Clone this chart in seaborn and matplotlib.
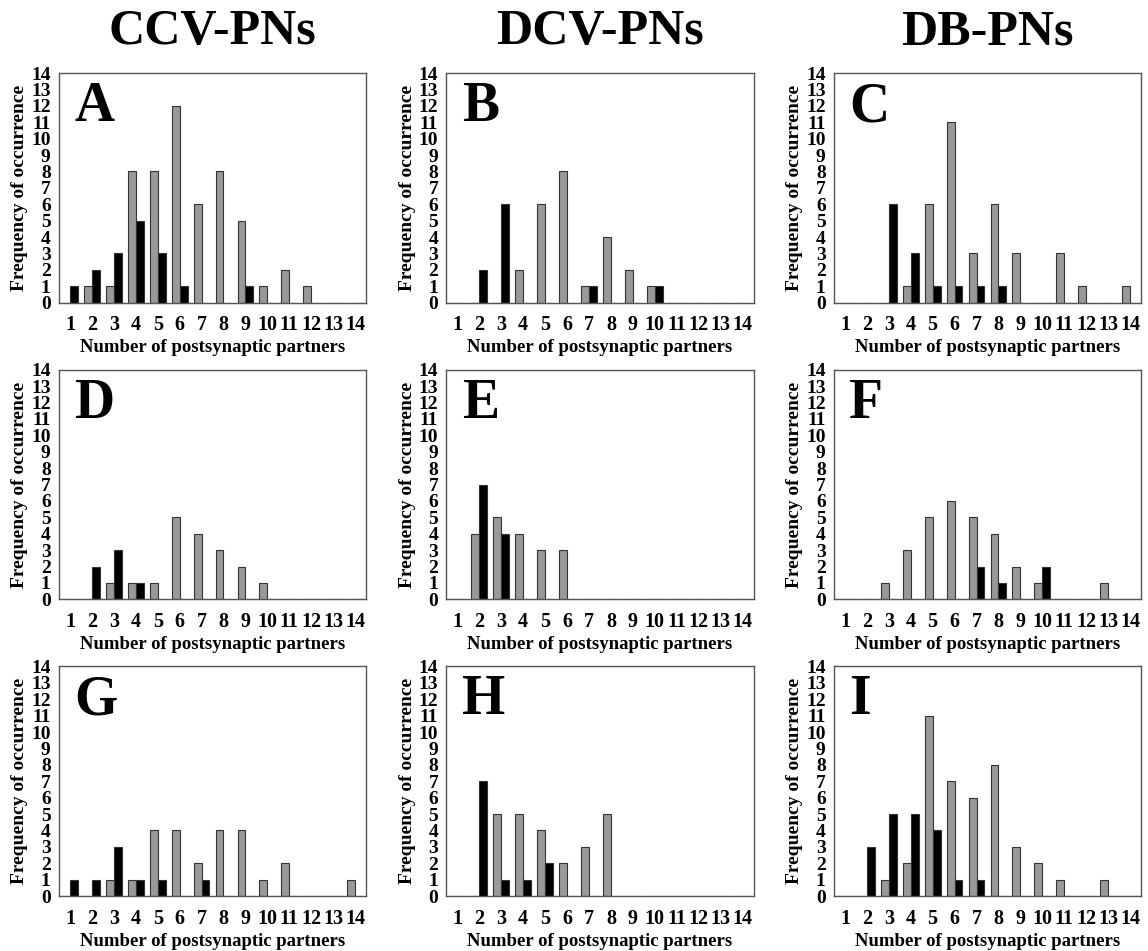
"""Histograms of postsynaptic partner counts for CCV-, DCV- and DB-PNs."""

import matplotlib.pyplot as plt
import pandas as pd
import seaborn as sns

PARTNERS = list(range(1, 15))
COLUMN_TITLES = ["CCV-PNs", "DCV-PNs", "DB-PNs"]
PANEL_LETTERS = ["A", "B", "C", "D", "E", "F", "G", "H", "I"]

# gray bars, partner counts 1..14
GRAY_A = [0, 1, 1, 8, 8, 12, 6, 8, 5, 1, 2, 1, 0, 0]
GRAY_B = [0, 0, 0, 2, 6, 8, 1, 4, 2, 1, 0, 0, 0, 0]
GRAY_C = [0, 0, 0, 1, 6, 11, 3, 6, 3, 0, 3, 1, 0, 1]
GRAY_D = [0, 0, 1, 1, 1, 5, 4, 3, 2, 1, 0, 0, 0, 0]
GRAY_E = [0, 4, 5, 4, 3, 3, 0, 0, 0, 0, 0, 0, 0, 0]
GRAY_F = [0, 0, 1, 3, 5, 6, 5, 4, 2, 1, 0, 0, 1, 0]
GRAY_G = [0, 0, 1, 1, 4, 4, 2, 4, 4, 1, 2, 0, 0, 1]
GRAY_H = [0, 0, 5, 5, 4, 2, 3, 5, 0, 0, 0, 0, 0, 0]
GRAY_I = [0, 0, 1, 2, 11, 7, 6, 8, 3, 2, 1, 0, 1, 0]

# black bars, partner counts 1..14
BLACK_A = [1, 2, 3, 5, 3, 1, 0, 0, 1, 0, 0, 0, 0, 0]
BLACK_B = [0, 2, 6, 0, 0, 0, 1, 0, 0, 1, 0, 0, 0, 0]
BLACK_C = [0, 0, 6, 3, 1, 1, 1, 1, 0, 0, 0, 0, 0, 0]
BLACK_D = [0, 2, 3, 1, 0, 0, 0, 0, 0, 0, 0, 0, 0, 0]
BLACK_E = [0, 7, 4, 0, 0, 0, 0, 0, 0, 0, 0, 0, 0, 0]
BLACK_F = [0, 0, 0, 0, 0, 0, 2, 1, 0, 2, 0, 0, 0, 0]
BLACK_G = [1, 1, 3, 1, 1, 0, 1, 0, 0, 0, 0, 0, 0, 0]
BLACK_H = [0, 7, 1, 1, 2, 0, 0, 0, 0, 0, 0, 0, 0, 0]
BLACK_I = [0, 3, 5, 5, 4, 1, 1, 0, 0, 0, 0, 0, 0, 0]

GRAY = [GRAY_A, GRAY_B, GRAY_C, GRAY_D, GRAY_E, GRAY_F, GRAY_G, GRAY_H, GRAY_I]
BLACK = [BLACK_A, BLACK_B, BLACK_C, BLACK_D, BLACK_E, BLACK_F, BLACK_G, BLACK_H, BLACK_I]

sns.set_style("white")
plt.rcParams["font.family"] = ["Liberation Serif", "DejaVu Serif"]
plt.rcParams["font.weight"] = "bold"
plt.rcParams.update({"text.color": "black", "axes.labelcolor": "black",
                     "xtick.color": "black", "ytick.color": "black"})

fig, axes = plt.subplots(3, 3, figsize=(11.48, 9.51), dpi=100)
fig.subplots_adjust(left=0.0514, right=0.9939, top=0.9232, bottom=0.0578,
                    wspace=0.262, hspace=0.292)

for i, ax in enumerate(axes.flat):
    df = pd.DataFrame({
        "partners": PARTNERS * 2,
        "count": GRAY[i] + BLACK[i],
        "group": ["gray"] * 14 + ["black"] * 14,
    })
    sns.barplot(data=df, x="partners", y="count", hue="group",
                hue_order=["gray", "black"], order=PARTNERS,
                palette={"gray": "#999999", "black": "#000000"},
                width=0.72, edgecolor="#333333", linewidth=0.8,
                legend=False, ax=ax)
    ax.set_ylim(0, 14)
    ax.set_xlim(-0.5, 13.5)
    ax.set_yticks(range(15))
    ax.set_xlabel("Number of postsynaptic partners", fontsize=13.5,
                  fontweight="bold", labelpad=3)
    ax.set_ylabel("Frequency of occurrence", fontsize=14, fontweight="bold",
                  labelpad=2)
    ax.tick_params(axis="y", direction="in", length=3, width=0.8,
                   color="#666666", labelcolor="black", labelsize=14, pad=6)
    ax.tick_params(axis="x", length=0, labelcolor="black", labelsize=14.5, pad=9)
    for lab in ax.get_xticklabels() + ax.get_yticklabels():
        lab.set_fontweight("bold")
    for sp in ax.spines.values():
        sp.set_color("#555555")
        sp.set_linewidth(1.0)
    ax.text(0.05, 0.965, PANEL_LETTERS[i], transform=ax.transAxes,
            ha="left", va="top", fontsize=40, fontweight="bold", color="black")

for col, title in enumerate(COLUMN_TITLES):
    pos = axes[0, col].get_position()
    fig.text((pos.x0 + pos.x1) / 2, 0.966, title, ha="center", va="center",
             fontsize=36, fontweight="bold", color="black")

fig.savefig("out.png", dpi=100)
